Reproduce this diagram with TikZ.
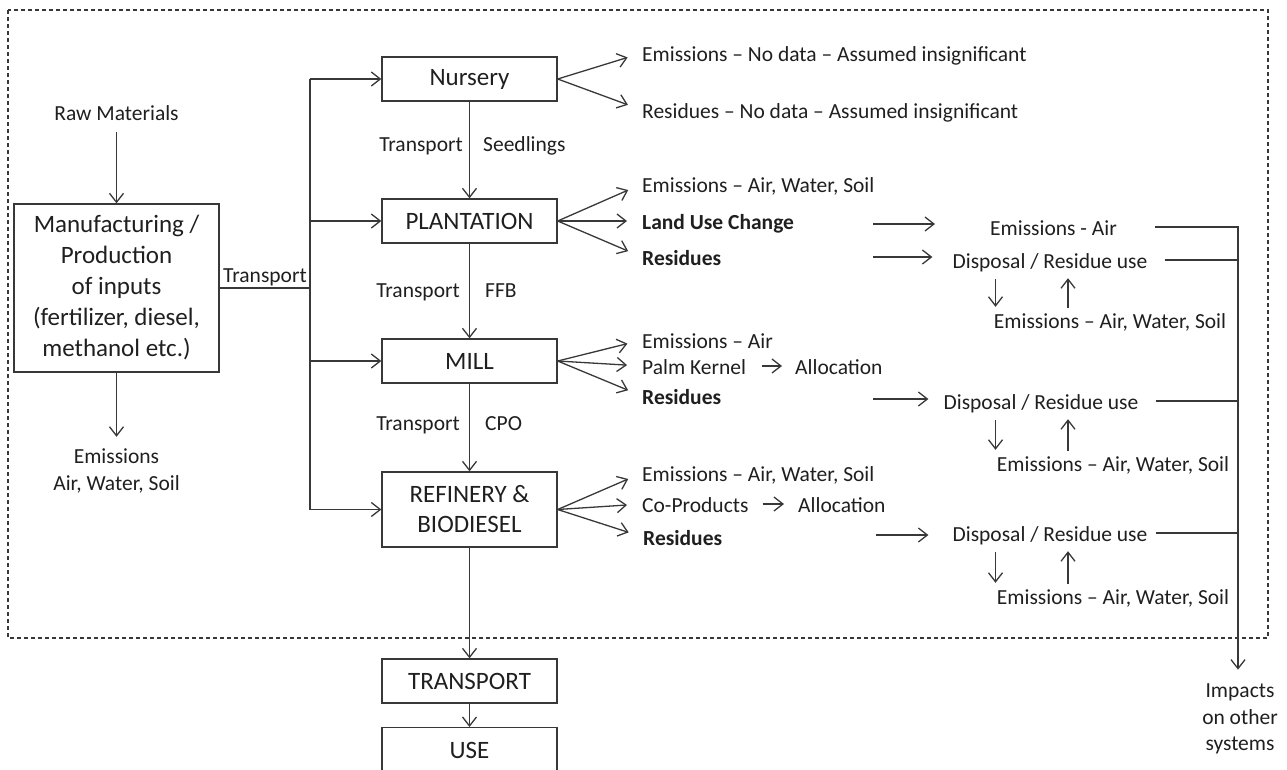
\documentclass[tikz,border=0pt]{standalone}
\usepackage{fontspec}
\setmainfont{Carlito}
\usetikzlibrary{arrows.meta}
\begin{document}
\begin{tikzpicture}[x=1pt,y=-1pt,
  ln/.style={line width=1.3pt, draw=black!78},
  arr/.style={ln, -{Straight Barb[length=9pt,width=14pt]}},
  box/.style={draw=black!78, line width=1.3pt, minimum width=175pt, minimum height=44pt, inner sep=0pt, font=\fontsize{25}{30}\selectfont, text=black!88},
  lbl/.style={inner sep=0pt, font=\fontsize{21.5}{26.5}\selectfont, text=black!88, text height=18pt, text depth=2pt},
  mlbl/.style={inner sep=0pt, font=\fontsize{21.5}{26.5}\selectfont, text=black!88, align=center},
  bl/.style={lbl, font=\fontsize{21.5}{26.5}\selectfont\bfseries},
  dn/.style={arr, shorten <=9pt, shorten >=3pt},
  upa/.style={arr, shorten <=2pt, shorten >=8pt},
  fan/.style={arr, shorten >=15pt},
  border/.style={draw=black!78, line width=1.1pt, dash pattern=on 4pt off 3pt}
]
\useasboundingbox (0,0) rectangle (1287,769);
\clip (0,0) rectangle (1287,769);

% system boundary
\draw[border] (8,10) rectangle (1268,638);

% left column
\node[lbl] (raw) at (116.5,112) {Raw Materials};
\node[box, minimum width=205pt, minimum height=168pt, align=center, font=\fontsize{25}{31}\selectfont] (mfg) at (116.5,288)
  {Manufacturing /\\Production\\of inputs\\(fertilizer, diesel,\\methanol etc.)};
\node[mlbl] (emL) at (116.5,471) {Emissions\\Air, Water, Soil};
\draw[arr, shorten <=10pt] (raw.south) -- (mfg.north);
\draw[arr, shorten >=12pt] (mfg.south) -- (emL.north);

% central column
\node[box] (nurs) at (469.5,79) {Nursery};
\node[box] (plant) at (469.5,221) {PLANTATION};
\node[box] (mill) at (469.5,361) {MILL};
\node[box, minimum height=75pt, align=center] (ref) at (469.5,509.5) {REFINERY \&\\BIODIESEL};
\node[box] (tr) at (469.5,681) {TRANSPORT};
\node[box, anchor=north, minimum height=46pt] (use) at (469.5,727) {USE};

\draw[arr] (nurs) -- (plant);
\draw[arr] (plant) -- (mill);
\draw[arr] (mill) -- (ref);
\draw[arr] (ref) -- (tr);
\draw[arr] (tr) -- (use);

\node[lbl, anchor=east] at (463,143) {Transport};
\node[lbl, anchor=west] at (483,143) {Seedlings};
\node[lbl, anchor=east] at (460,289) {Transport};
\node[lbl, anchor=west] at (485,289) {FFB};
\node[lbl, anchor=east] at (460,422) {Transport};
\node[lbl, anchor=west] at (485,422) {CPO};

% transport bus
\coordinate (busT) at (310,79);
\coordinate (busB) at (310,509.5);
\draw[ln] (mfg.east) -- (mfg.east -| busT);
\node[lbl] (trL) at (265,274) {Transport};
\draw[ln] (busT) -- (busB);
\draw[arr] (busT) -- (nurs.west);
\draw[arr] (plant.west -| busT) -- (plant.west);
\draw[arr] (mill.west -| busT) -- (mill.west);
\draw[arr] (busB) -- (ref.west);

% nursery outputs
\node[lbl, anchor=west] (emN) at (642,53) {Emissions – No data – Assumed insignificant};
\node[lbl, anchor=west] (resN) at (642,110) {Residues – No data – Assumed insignificant};
\draw[fan] (nurs.east) -- (emN.west);
\draw[fan] (nurs.east) -- (resN.west);

% plantation outputs
\node[lbl, anchor=west] (emP) at (642,184) {Emissions – Air, Water, Soil};
\node[bl, anchor=west] (lucP) at (642,221) {Land Use Change};
\node[bl, anchor=west] (resP) at (642,257) {Residues};
\draw[fan] (plant.east) -- (emP.west);
\draw[fan] (plant.east) -- (lucP.west);
\draw[fan] (plant.east) -- (resP.west);

% mill outputs
\node[lbl, anchor=west] (emM) at (642,340) {Emissions – Air};
\node[lbl, anchor=west] (pkM) at (642,366) {Palm Kernel};
\node[lbl, anchor=west] (alM) at (795,366) {Allocation};
\node[bl, anchor=west] (resM) at (642,396) {Residues};
\draw[fan] (mill.east) -- (emM.west);
\draw[fan] (mill.east) -- (pkM.west);
\draw[fan] (mill.east) -- (resM.west);
\draw[arr, shorten <=16pt, shorten >=13pt] (pkM.east) -- (alM.west);

% refinery outputs
\node[lbl, anchor=west] (emR) at (642,473) {Emissions – Air, Water, Soil};
\node[lbl, anchor=west] (cpR) at (642,504) {Co-Products};
\node[lbl, anchor=west] (alR) at (798,504) {Allocation};
\node[bl, anchor=west] (resR) at (643,537) {Residues};
\draw[fan] (ref.east) -- (emR.west);
\draw[fan] (ref.east) -- (cpR.west);
\draw[fan] (ref.east) -- (resR.west);
\draw[arr, shorten <=14pt, shorten >=14pt] (cpR.east) -- (alR.west);

% right side
\coordinate (xd) at (995.5,0);
\coordinate (xu) at (1068,0);
\coordinate (rb) at (1238,226);

\node[lbl] (eaP) at (1053.5,227) {Emissions - Air};
\node[lbl] (dP) at (1050,260) {Disposal / Residue use};
\node[lbl] (ewP) at (1110,320) {Emissions – Air, Water, Soil};
\coordinate (sP1) at (873,224);
\coordinate (sP2) at (873,257);
\draw[arr] (sP1) -- ([xshift=-55pt]sP1 -| eaP.west);
\draw[arr] (sP2) -- ([xshift=-20pt]sP2 -| dP.west);
\draw[dn] (dP.south -| xd) -- (ewP.north -| xd);
\draw[upa] (ewP.north -| xu) -- (dP.south -| xu);

\node[lbl] (dM) at (1041,401) {Disposal / Residue use};
\node[lbl] (ewM) at (1113,463) {Emissions – Air, Water, Soil};
\coordinate (sM) at (873,399);
\draw[arr] (sM) -- ([xshift=-15pt]sM -| dM.west);
\draw[dn] (dM.south -| xd) -- (ewM.north -| xd);
\draw[upa] (ewM.north -| xu) -- (dM.south -| xu);

\node[lbl] (dR) at (1050,533) {Disposal / Residue use};
\node[lbl] (ewR) at (1113,596) {Emissions – Air, Water, Soil};
\coordinate (sR) at (876,535);
\draw[arr] (sR) -- ([xshift=-24pt]sR -| dR.west);
\draw[dn] (dR.south -| xd) -- (ewR.north -| xd);
\draw[upa] (ewR.north -| xu) -- (dR.south -| xu);

% impacts collector
\node[mlbl] (imp) at (1240,719) {Impacts\\on other\\systems};
\draw[ln] ([xshift=38pt]eaP.east) -- (eaP.east -| rb);
\draw[ln] ([xshift=17pt]dP.east) -- (dP.east -| rb);
\draw[ln] ([xshift=17pt]dM.east) -- (dM.east -| rb);
\draw[ln] ([xshift=8pt]dR.east) -- (dR.east -| rb);
\draw[arr, shorten >=14pt] (rb) -- (rb |- imp.north);
\end{tikzpicture}
\end{document}
